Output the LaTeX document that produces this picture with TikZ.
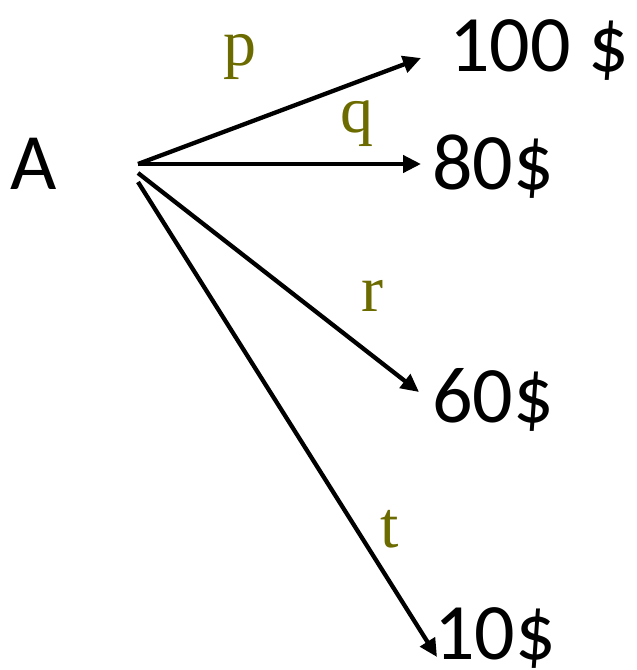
\documentclass[tikz,border=0pt]{standalone}
\usepackage{fontspec}
\setmainfont{Carlito}
\newfontfamily\labfont{Liberation Serif}
\usetikzlibrary{arrows.meta}
\definecolor{olivelab}{RGB}{107,107,0}
\begin{document}
\begin{tikzpicture}[x=1pt,y=-1pt,
  val/.style={anchor=base west,inner sep=0pt,font=\fontsize{80}{82}\selectfont},
  prob/.style={anchor=base,inner sep=0pt,text=olivelab,font=\labfont\fontsize{66}{70}\selectfont},
  branch/.style={line width=4.3pt,-{Triangle[length=18pt,width=17pt]}}]
\useasboundingbox (0,0) rectangle (637,670);
\node[val] (A) at (10,189) {A};
\node[val] (v100) at (449,71) {100 \$};
\node[val] (v80) at (432,189) {80\$};
\node[val] (v60) at (432,422) {60\$};
\node[val] (v10) at (434,659) {10\$};
\coordinate (s1) at (138,164);
\coordinate (s2) at (138,173);
\coordinate (s3) at (138,182);
\coordinate (e1) at (421,58);
\coordinate (e2) at (421,164);
\coordinate (e3) at (419,392);
\coordinate (e4) at (437,657);
\draw[branch] (s1) -- (e1);
\draw[branch] (s1) -- (e2);
\draw[branch] (s2) -- (e3);
\draw[branch] (s3) -- (e4);
\node[prob] (p) at (240,65) {p};
\node[prob] (q) at (357,132) {q};
\node[prob] (r) at (372,311) {r};
\node[prob] (t) at (390,547) {t};
\end{tikzpicture}
\end{document}
